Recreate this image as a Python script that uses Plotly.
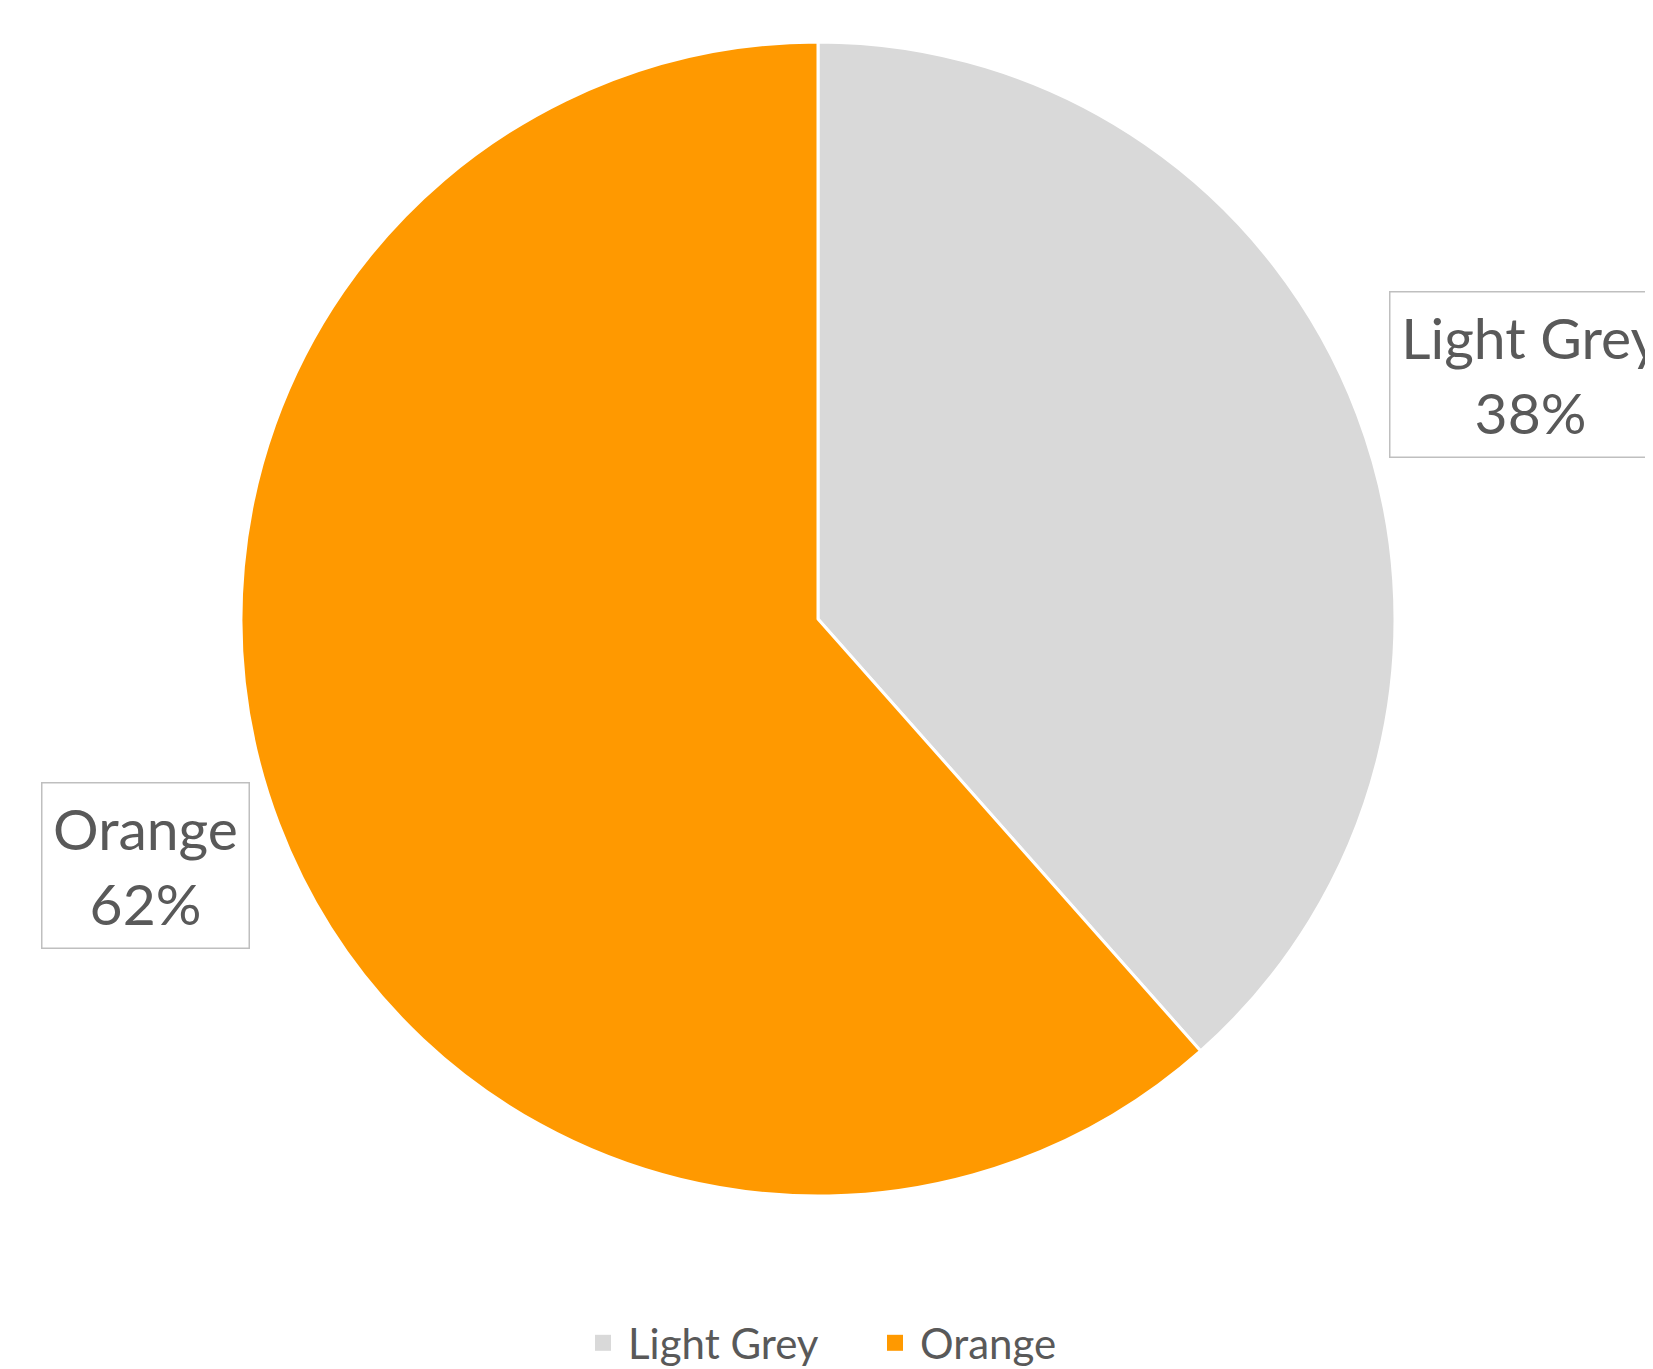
import plotly.graph_objects as go

categories = ["Light Grey", "Orange"]
values = [5, 8]
colors = ["#D9D9D9", "#FF9900"]

W, H = 1653, 1369
OFF = 8  # page body margin compensation
total = sum(values)
pct = [f"{round(v / total * 100)}%" for v in values]

cx0, cy0, R = 818 - OFF, 619 - OFF, 577

fig = go.Figure(go.Pie(
    labels=categories,
    values=values,
    sort=False,
    direction="clockwise",
    rotation=0,
    marker=dict(colors=colors, line=dict(color="white", width=3)),
    textinfo="none",
    hoverinfo="label+percent",
    showlegend=False,
    domain=dict(x=[(cx0 - R) / W, (cx0 + R) / W], y=[1 - (cy0 + R) / H, 1 - (cy0 - R) / H]),
))

# legend entries (square swatches)
for name, col in zip(categories, colors):
    fig.add_trace(go.Scatter(
        x=[None], y=[None], mode="markers", name=name,
        marker=dict(symbol="square", size=16, color=col),
        hoverinfo="skip",
    ))

# label boxes (centre px, width)
boxes = [(1530 - OFF, 374 - OFF, 268), (145 - OFF, 865 - OFF, 194)]
for (bx, by, bw), name, p in zip(boxes, categories, pct):
    fig.add_annotation(
        x=bx / W, y=1 - by / H, xref="paper", yref="paper",
        xanchor="center", yanchor="middle",
        text=f"{name}<br>{p}", showarrow=False,
        font=dict(family="Lato", size=57, color="#595959"),
        bordercolor="#BFBFBF", borderwidth=1.5, borderpad=6,
        width=bw, height=152, bgcolor="white",
    )

fig.update_layout(
    width=W, height=H,
    margin=dict(l=0, r=0, t=0, b=0),
    paper_bgcolor="white",
    plot_bgcolor="white",
    xaxis=dict(visible=False),
    yaxis=dict(visible=False),
    showlegend=True,
    legend=dict(
        orientation="h", x=570 / W, xanchor="left", y=0, yanchor="bottom",
        font=dict(family="Lato", size=42, color="#595959"),
        itemwidth=40, tracegroupgap=0, itemsizing="trace",
        entrywidth=237, entrywidthmode="pixels",
    ),
)

fig.write_html("out.html")
